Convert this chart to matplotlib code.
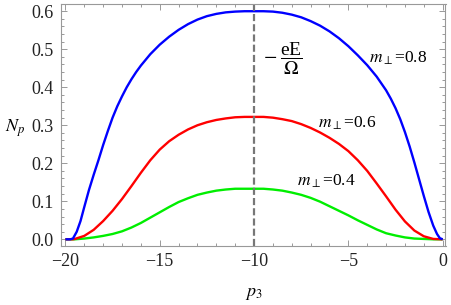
import matplotlib
matplotlib.use("Agg")
import matplotlib.pyplot as plt
from matplotlib.ticker import MultipleLocator, FuncFormatter

plt.rcParams['font.family'] = ['Liberation Serif', 'DejaVu Serif']
plt.rcParams['mathtext.fontset'] = 'stix'

# Data
blue_p3 = [-20.0, -19.75, -19.6, -19.4, -19.2, -19.0, -18.75, -18.5, -18.25, -18.0,
           -17.75, -17.5, -17.25, -17.0, -16.75, -16.5, -16.25, -16.0, -15.5, -15.0,
           -14.5, -14.0, -13.5, -13.0, -12.5, -12.0, -11.5, -11.0, -10.5, -10.0,
           -9.5, -9.0, -8.5, -8.0, -7.5, -7.0, -6.5, -6.0, -5.5, -5.0,
           -4.5, -4.0, -3.5, -3.0, -2.75, -2.5, -2.25, -2.0, -1.75, -1.5,
           -1.25, -1.0, -0.75, -0.5, -0.3, -0.15, 0.0]
blue_N = [0.0, 0.0, 0.002, 0.02, 0.048, 0.085, 0.13, 0.17, 0.208, 0.248,
          0.285, 0.32, 0.35, 0.376, 0.40, 0.421, 0.44, 0.457, 0.487, 0.512,
          0.533, 0.551, 0.566, 0.578, 0.587, 0.593, 0.597, 0.599, 0.600, 0.600,
          0.600, 0.599, 0.596, 0.591, 0.584, 0.574, 0.562, 0.547, 0.529, 0.508,
          0.484, 0.458, 0.428, 0.392, 0.37, 0.345, 0.316, 0.282, 0.244, 0.202,
          0.158, 0.114, 0.072, 0.036, 0.014, 0.003, 0.0]

red_p3 = [-20.0, -19.6, -19.5, -19.0, -18.5, -18.0, -17.5, -17.0, -16.5, -16.0,
          -15.5, -15.0, -14.5, -14.0, -13.5, -13.0, -12.5, -12.0, -11.5, -11.0,
          -10.5, -10.0, -9.5, -9.0, -8.5, -8.0, -7.5, -7.0, -6.5, -6.0,
          -5.5, -5.0, -4.5, -4.0, -3.5, -3.0, -2.5, -2.0, -1.5, -1.0,
          -0.5, 0.0]
red_N = [0.0, 0.0, 0.001, 0.009, 0.025, 0.048, 0.075, 0.106, 0.14, 0.175,
         0.208, 0.236, 0.258, 0.275, 0.289, 0.300, 0.308, 0.314, 0.318, 0.321,
         0.322, 0.322, 0.322, 0.320, 0.316, 0.311, 0.303, 0.293, 0.281, 0.267,
         0.251, 0.232, 0.208, 0.18, 0.147, 0.113, 0.078, 0.047, 0.023, 0.008,
         0.001, 0.0]

green_p3 = [-20.0, -19.5, -19.0, -18.5, -18.0, -17.5, -17.0, -16.5, -16.0, -15.5,
            -15.0, -14.5, -14.0, -13.5, -13.0, -12.5, -12.0, -11.5, -11.0, -10.5,
            -10.0, -9.5, -9.0, -8.5, -8.0, -7.5, -7.0, -6.5, -6.0, -5.5,
            -5.0, -4.5, -4.0, -3.5, -3.0, -2.5, -2.0, -1.5, -1.0, -0.5, 0.0]
green_N = [0.0, 0.0, 0.002, 0.005, 0.009, 0.014, 0.021, 0.031, 0.043, 0.057,
           0.071, 0.085, 0.098, 0.108, 0.117, 0.123, 0.128, 0.131, 0.133, 0.133,
           0.133, 0.133, 0.131, 0.128, 0.123, 0.117, 0.109, 0.099, 0.087, 0.075,
           0.063, 0.05, 0.038, 0.026, 0.016, 0.01, 0.005, 0.002, 0.001, 0.0, 0.0]

peak_p3 = -10.0
labels = ['$m_{\\perp}$=0.8', '$m_{\\perp}$=0.6', '$m_{\\perp}$=0.4']
label_pos = [(-2.35, 0.477), (-5.05, 0.305), (-6.19, 0.153)]

fig = plt.figure(figsize=(4.52, 3.05), dpi=100)
ax = fig.add_axes([60.7/452, 1-246/305, (445.5-60.7)/452, (246-4)/305])

ax.plot(green_p3, green_N, color='#00ee00', lw=1.7, solid_capstyle='butt', solid_joinstyle='round')
ax.plot(red_p3, red_N, color='#ff0000', lw=1.7, solid_capstyle='butt', solid_joinstyle='round')
ax.plot(blue_p3, blue_N, color='#0000ff', lw=1.7, solid_capstyle='butt', solid_joinstyle='round')
ax.axvline(peak_p3, color='#777777', lw=1.6, ls=(0, (3.2, 1.4)))

for t, (x, y) in zip(labels, label_pos):
    ax.text(x, y, t, fontsize=12.5, ha='center', va='center')

ax.text(-8.45, 0.474, r'$-\;\dfrac{\mathregular{eE}}{\Omega}$', fontsize=14, ha='center', va='center')

ax.set_xlim(-20.25, 0.15)
ax.set_ylim(-0.0176, 0.619)
ax.xaxis.set_major_locator(MultipleLocator(5))
ax.xaxis.set_minor_locator(MultipleLocator(1))
ax.yaxis.set_major_locator(MultipleLocator(0.1))
ax.yaxis.set_minor_locator(MultipleLocator(0.02))
ax.xaxis.set_major_formatter(FuncFormatter(lambda v, p: f'{v:.0f}'.replace('-', '\u2212')))
ax.yaxis.set_major_formatter(FuncFormatter(lambda v, p: f'{v:.1f}'))

for s in ax.spines.values():
    s.set_color('#999999')
    s.set_linewidth(0.8)
ax.tick_params(which='both', direction='in', top=True, right=True, color='#999999', width=0.7,
               labelsize=13, labelcolor='#222222')
ax.tick_params(which='major', length=4.5, pad=5)
ax.tick_params(which='minor', length=2.5)

fig.text(15/452, 1-128/305, r'$N_p$', fontsize=13, ha='center', va='center')
fig.text(254/452, 1-293/305, r'$p_3$', fontsize=13, ha='center', va='center')

fig.savefig('out.png', dpi=100)
